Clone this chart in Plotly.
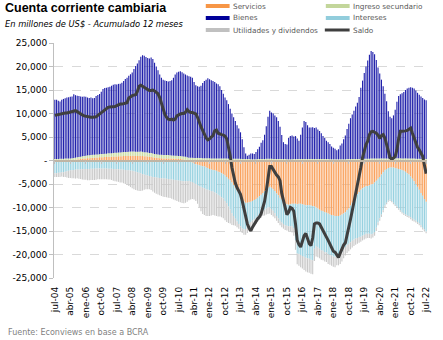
import pandas as pd
import plotly.graph_objects as go

# Cuenta corriente cambiaria, acumulado 12 meses (millones de US$), jul-04 a jul-22
MESES = ["ene", "feb", "mar", "abr", "may", "jun", "jul", "ago", "sep", "oct", "nov", "dic"]
fechas = pd.date_range("2004-07-01", "2022-07-01", freq="MS")
meses = [f"{MESES[d.month - 1]}-{d.year % 100:02d}" for d in fechas]

servicios = [
    -300, -300, -250, -250, -200, -200,
    -150, -100, -50, 0, 50, 100, 150, 200, 250, 300, 350, 400,
    450, 500, 500, 550, 600, 600, 650, 650, 700, 700, 700, 750,
    750, 800, 800, 800, 850, 850, 850, 900, 900, 900, 950, 950,
    950, 950, 1000, 1000, 1000, 950, 950, 950, 1000, 950, 900, 900,
    850, 800, 800, 700, 650, 600, 550, 500, 500, 450, 450, 450,
    450, 400, 400, 400, 350, 350, 300, 300, 250, 200, 150, 100,
    0, -200, -400, -600, -800, -900, -1000, -1100, -1200, -1300, -1500, -1600,
    -1800, -1900, -2000, -2100, -2200, -2400, -2500, -2700, -2900, -3200, -3500, -3900,
    -4200, -4700, -5200, -5800, -6400, -7000, -7600, -8200, -8700, -9000, -9000, -8900,
    -8800, -8600, -8400, -8200, -7900, -7600, -7300, -6900, -6500, -6100, -5800, -5600,
    -5800, -6100, -6500, -7000, -7400, -7900, -8300, -8700, -9100, -9300, -9400, -9300,
    -9200, -9200, -9200, -9300, -9200, -9200, -9300, -9400, -9500, -9500, -9500, -9600,
    -9700, -9800, -10000, -10200, -10500, -10700, -10800, -11000, -11100, -11300, -11500, -11600,
    -11700, -11800, -11800, -11800, -11700, -11500, -11300, -11000, -10600, -10200, -9600, -9000,
    -8400, -7800, -7200, -6700, -6200, -5900, -5700, -5500, -5400, -5300, -5100, -5000,
    -4700, -4300, -3900, -3500, -3000, -2500, -2100, -1800, -1600, -1500, -1500, -1500,
    -1600, -1700, -1800, -1900, -2000, -2200, -2400, -2700, -3000, -3400, -3900, -4400,
    -5000, -5600, -6200, -6900, -7500, -8200, -8800,
]

ingreso_secundario = [
    300, 300, 300, 350, 350, 350,
    400, 400, 400, 400, 450, 450, 450, 500, 500, 500, 550, 550,
    550, 600, 600, 600, 600, 650, 650, 650, 650, 700, 700, 700,
    700, 750, 750, 750, 750, 800, 800, 800, 800, 850, 850, 850,
    850, 900, 900, 900, 900, 900, 900, 900, 900, 900, 850, 850,
    850, 800, 800, 800, 750, 750, 750, 700, 700, 700, 700, 700,
    700, 700, 650, 650, 650, 650, 650, 650, 650, 650, 650, 600,
    600, 600, 600, 550, 550, 550, 550, 550, 500, 500, 500, 500,
    500, 450, 450, 450, 450, 450, 400, 400, 400, 400, 400, 400,
    350, 350, 350, 350, 350, 350, 350, 300, 300, 300, 300, 300,
    250, 250, 250, 250, 300, 300, 300, 300, 300, 350, 350, 350,
    350, 300, 300, 300, 300, 300, 300, 300, 300, 250, 250, 250,
    250, 300, 300, 300, 300, 300, 300, 300, 300, 300, 300, 300,
    300, 300, 300, 300, 300, 300, 300, 300, 300, 300, 250, 250,
    250, 250, 250, 250, 250, 250, 250, 250, 300, 300, 300, 300,
    300, 300, 300, 300, 350, 350, 350, 350, 350, 350, 400, 400,
    400, 400, 400, 400, 450, 450, 450, 450, 450, 500, 500, 500,
    500, 500, 500, 500, 450, 450, 450, 450, 400, 400, 400, 400,
    350, 350, 350, 300, 300, 300, 300,
]

bienes = [
    12600, 12600, 12400, 12200, 12550, 12750,
    12850, 13000, 13050, 13150, 13100, 13550, 13300, 13100, 12950, 12800, 12650, 12650,
    12550, 12300, 12200, 12250, 12050, 12050, 12400, 12650, 12800, 13250, 13800, 14000,
    14050, 14050, 14150, 14350, 14500, 14550, 14500, 14600, 14650, 14800, 15100, 15550,
    15800, 16200, 16450, 16850, 17550, 18250, 18800, 19500, 20150, 20550, 20550, 20250,
    20100, 20100, 20300, 20100, 19400, 18650, 17900, 17100, 16400, 16050, 15850, 15750,
    15650, 15800, 16050, 16550, 17300, 17700, 17950, 18050, 17900, 17650, 17500, 17400,
    17300, 17200, 17000, 16150, 15450, 15250, 15150, 15350, 16000, 16400, 16700, 17000,
    16800, 16650, 16450, 16250, 15950, 15750, 15400, 14600, 13800, 13000, 12400, 11600,
    10650, 9650, 8850, 8050, 7150, 6450, 5650, 4200, 2500, 1200, 700, 900,
    1250, 1250, 1150, 1550, 2100, 2600, 3500, 4000, 5200, 6950, 8950, 10250,
    9850, 9700, 9300, 8900, 8100, 6900, 5100, 3600, 3200, 3150, 4550, 4950,
    5050, 4800, 4900, 4400, 3900, 5200, 6700, 8100, 7900, 7200, 6700, 6700,
    6800, 6600, 6700, 6300, 6000, 5500, 4900, 4500, 3900, 3600, 3250, 2750,
    2450, 2250, 1950, 2150, 2950, 3350, 4250, 5050, 6400, 7500, 8700, 9500,
    10300, 11200, 12000, 13200, 15150, 16650, 18250, 19650, 20950, 22150, 22900, 22700,
    22200, 21000, 19400, 18100, 16750, 15350, 13750, 12150, 10050, 8800, 8500, 9100,
    10300, 12000, 13200, 13600, 13850, 14150, 14550, 14850, 15100, 15200, 15100, 14900,
    14550, 14050, 13650, 13300, 13000, 12700, 12500,
]

intereses = [
    -2400, -2400, -2350, -2350, -2300, -2300,
    -2250, -2200, -2150, -2100, -2050, -2000, -1950, -1900, -1900, -1850, -1850, -1800,
    -1800, -1800, -1800, -1750, -1750, -1750, -1700, -1700, -1700, -1700, -1700, -1700,
    -1700, -1750, -1750, -1750, -1800, -1800, -1850, -1850, -1900, -1900, -1950, -2000,
    -2050, -2100, -2150, -2200, -2300, -2400, -2500, -2600, -2700, -2900, -3000, -3100,
    -3200, -3300, -3400, -3500, -3550, -3600, -3650, -3700, -3750, -3800, -3850, -3900,
    -3950, -4000, -4050, -4100, -4150, -4200, -4250, -4300, -4350, -4400, -4400, -4400,
    -4350, -4300, -4200, -4200, -4200, -4300, -4400, -4500, -4600, -4600, -4600, -4600,
    -4600, -4600, -4600, -4700, -4800, -4900, -5000, -5100, -5200, -5400, -5600, -5900,
    -6200, -6500, -6600, -6600, -6600, -6500, -6400, -6200, -6000, -5600, -5000, -4600,
    -4300, -4200, -4100, -4000, -3900, -3900, -3900, -3900, -4000, -4100, -4200, -4300,
    -4500, -4600, -4700, -4800, -4900, -4900, -4900, -4800, -4700, -4600, -4600, -4700,
    -4800, -5200, -7800, -10500, -10700, -10900, -11000, -11100, -11200, -11300, -11400, -11500,
    -11500, -9000, -8200, -8300, -8300, -8400, -8400, -8500, -8500, -8600, -8600, -8600,
    -8700, -8700, -8300, -8300, -8200, -8000, -7600, -7400, -7400, -7500, -7800, -8100,
    -8400, -8800, -9300, -9600, -10000, -10100, -10100, -10100, -10200, -10300, -10600, -10600,
    -10500, -10000, -9300, -8800, -8500, -8100, -7500, -7200, -6900, -6800, -7100, -7500,
    -7800, -8100, -8400, -8700, -9000, -9100, -9100, -9000, -8800, -8700, -8500, -8200,
    -7800, -7500, -7200, -6900, -6800, -6500, -6300,
]

utilidades = [
    -800, -800, -900, -900, -900, -1000,
    -1100, -1300, -1500, -1600, -1700, -1800, -1900, -1900, -2000, -2100, -2200, -2300,
    -2300, -2400, -2400, -2400, -2400, -2400, -2400, -2300, -2300, -2300, -2300, -2300,
    -2300, -2300, -2300, -2400, -2500, -2600, -2600, -2700, -2800, -2800, -2900, -3000,
    -3100, -3300, -3500, -3700, -3800, -3900, -3900, -3900, -3800, -3500, -3200, -3000,
    -2900, -2800, -2900, -3100, -3300, -3500, -3600, -3700, -3800, -3900, -3900, -3900,
    -4000, -4000, -4100, -4200, -4300, -4400, -4500, -4600, -4700, -4700, -4600, -4400,
    -4100, -3800, -3600, -3500, -3600, -4000, -4600, -5200, -5600, -5700, -5700, -5600,
    -5400, -5200, -5000, -4900, -4800, -4600, -4400, -4300, -4200, -4100, -4000, -3500,
    -3000, -2500, -2000, -1500, -1200, -1000, -1000, -1000, -1100, -1200, -1400, -1500,
    -1500, -1500, -1400, -1300, -1200, -1100, -1000, -1000, -1200, -1300, -1400, -1400,
    -1300, -1200, -1100, -1000, -1000, -1000, -1000, -1000, -1000, -1000, -1000, -1100,
    -1300, -1600, -2000, -2300, -2500, -2600, -2700, -2800, -2900, -3000, -3000, -3000,
    -3000, -2600, -2200, -2100, -2000, -2000, -2000, -2000, -2000, -2100, -2100, -2200,
    -2200, -2200, -2200, -2200, -2100, -2000, -1900, -1800, -1700, -1600, -1500, -1400,
    -1400, -1300, -1200, -1200, -1100, -1000, -1000, -1000, -900, -900, -900, -800,
    -800, -700, -600, -500, -500, -400, -400, -300, -300, -300, -300, -300,
    -300, -300, -300, -300, -300, -300, -300, -300, -400, -400, -400, -400,
    -400, -400, -400, -400, -400, -400, -400,
]

saldo = [
    9600, 9700, 9700, 9800, 9900, 10000,
    10100, 10100, 10200, 10200, 10300, 10400, 10600, 10400, 10100, 9900, 9700, 9500,
    9400, 9300, 9200, 9200, 9200, 9300, 9300, 9600, 9900, 10300, 10600, 10900,
    11100, 11300, 11400, 11400, 11400, 11500, 11700, 11900, 12000, 12000, 12100, 12200,
    12300, 13300, 13600, 13800, 13900, 14000, 14700, 15800, 16000, 15800, 15600, 15400,
    15100, 14900, 14900, 15000, 14800, 14500, 14200, 13400, 12200, 11200, 9800, 9200,
    8800, 8700, 8800, 8600, 8800, 9500, 9800, 9900, 10000, 10000, 10300, 10800,
    10400, 10200, 10200, 10000, 9900, 9200, 8000, 7200, 6400, 5600, 4800, 4400,
    4600, 5000, 5300, 6300, 6500, 5800, 5600, 5500, 5400, 5200, 4600, 3000,
    1000, -1500, -3500, -4800, -5800, -6500, -7200, -8600, -10300, -12500, -13500, -14400,
    -15000, -14200, -13500, -13100, -12400, -12000, -11300, -10000, -8700, -6500, -3800, -1300,
    -1300, -1900, -2700, -3100, -3500, -4300, -7000, -8500, -10000, -11500, -11000, -10000,
    -10200, -10800, -13500, -17000, -17900, -18400, -17200, -16000, -15500, -16600, -17700, -18100,
    -16500, -13500, -13300, -13300, -13500, -14200, -15000, -15500, -16300, -17000, -17800, -18600,
    -19300, -19500, -20000, -20600, -19700, -18800, -18000, -17500, -16000, -14200, -12500, -10700,
    -9000, -7200, -5500, -3700, -1500, 600, 2000, 3400, 4100, 5500, 6100, 6200,
    6000, 5800, 5400, 4700, 5300, 5500, 4800, 3400, 2000, 600, 300, 500,
    900, 2300, 4600, 6200, 6200, 6200, 6300, 6400, 6600, 6900, 5800, 4800,
    3600, 2800, 2300, 1500, 900, -1000, -2800,
]

y_ticks = [25000, 20000, 15000, 10000, 5000, 0, -5000, -10000, -15000, -20000, -25000]
y_text = ["25,000", "20,000", "15,000", "10,000", "5,000", "-",
          "-5,000", "-10,000", "-15,000", "-20,000", "-25,000"]

# legend swatch colours and the (slightly translucent) bar fills; the small
# alpha makes plotly snap each thin bar to whole pixels, leaving fine gaps
COL = {
    "Servicios": "#F79646",
    "Ingreso secundario": "#C3D69B",
    "Bienes": "#000099",
    "Intereses": "#92CDDC",
    "Utilidades y dividendos": "#C0C0C0",
    "Saldo": "#3F3F3F",
}
BAR = {
    "Servicios": "rgba(249,160,90,0.99)",
    "Ingreso secundario": "rgba(200,220,160,0.99)",
    "Bienes": "rgba(30,30,170,0.99)",
    "Intereses": "rgba(150,208,224,0.99)",
    "Utilidades y dividendos": "rgba(200,200,200,0.99)",
}

x = list(range(len(meses)))
tick_idx = x[::9]

fig = go.Figure()
for nombre, valores in [
    ("Servicios", servicios),
    ("Ingreso secundario", ingreso_secundario),
    ("Bienes", bienes),
    ("Intereses", intereses),
    ("Utilidades y dividendos", utilidades),
]:
    fig.add_bar(x=x, y=valores, name=nombre, marker_color=BAR[nombre],
                marker_line_width=0, showlegend=False)

fig.add_scatter(x=x, y=saldo, name="Saldo", mode="lines", xaxis="x2",
                line=dict(color=COL["Saldo"], width=3), showlegend=False)

# plot area in pixels
L, R, T, B = 54, 430, 43, 278


def px(xp):
    return (xp - L) / (R - L)


def py(yp):
    return (B - yp) / (B - T)


shapes = []
annotations = []
FONT = "DejaVu Sans"

legend_items = [
    ("Servicios", 207, 6, "bar"), ("Ingreso secundario", 328, 6, "bar"),
    ("Bienes", 207, 18, "bar"), ("Intereses", 328, 18, "bar"),
    ("Utilidades y dividendos", 207, 30, "bar"), ("Saldo", 328, 30, "line"),
]
for nombre, x0, yc, kind in legend_items:
    if kind == "bar":
        shapes.append(dict(type="rect", xref="paper", yref="paper",
                           x0=px(x0), x1=px(x0 + 24), y0=py(yc + 2), y1=py(yc - 2),
                           fillcolor=COL[nombre], line=dict(width=0)))
    else:
        shapes.append(dict(type="line", xref="paper", yref="paper",
                           x0=px(x0 - 1), x1=px(x0 + 24), y0=py(yc), y1=py(yc),
                           line=dict(color=COL[nombre], width=3)))
    annotations.append(dict(text=nombre, xref="paper", yref="paper",
                            x=px(x0 + 25), y=py(yc), xanchor="left", yanchor="middle",
                            showarrow=False, font=dict(family=FONT, size=7.3, color="#595959")))

annotations += [
    dict(text="<b>Cuenta corriente cambiaria</b>", xref="paper", yref="paper",
         x=px(3), y=py(8), xanchor="left", yanchor="middle", showarrow=False,
         font=dict(family="Liberation Sans", size=12.5, color="#000000")),
    dict(text="<i>En millones de US$ - Acumulado 12 meses</i>", xref="paper", yref="paper",
         x=px(3), y=py(24), xanchor="left", yanchor="middle", showarrow=False,
         font=dict(family=FONT, size=8.3, color="#000000")),
    dict(text="Fuente: Econviews en base a BCRA", xref="paper", yref="paper",
         x=px(6), y=py(332), xanchor="left", yanchor="middle", showarrow=False,
         font=dict(family=FONT, size=8, color="#7F7F7F")),
]

fig.update_layout(
    width=443, height=340,
    margin=dict(l=L, r=443 - R, t=T, b=340 - B),
    paper_bgcolor="white", plot_bgcolor="white",
    barmode="relative", bargap=0.35,
    showlegend=False,
    shapes=shapes, annotations=annotations,
    xaxis=dict(range=[-0.5, len(meses) - 0.5], tickmode="array", tickvals=tick_idx,
               ticktext=[meses[i] for i in tick_idx], tickangle=-90,
               tickfont=dict(family=FONT, size=9, color="#000000"),
               showgrid=False, zeroline=False, showline=False, ticks="",
               ticklabelstandoff=6),
    xaxis2=dict(overlaying="x", anchor="free", position=0.5,
                range=[-0.5, len(meses) - 0.5], tickmode="array", tickvals=tick_idx,
                showticklabels=False, ticks="outside", ticklen=3, tickcolor="#BFBFBF",
                showline=True, linecolor="#BFB5A5", linewidth=1.5,
                showgrid=False, zeroline=False),
    yaxis=dict(range=[-25000, 25000], tickmode="array", tickvals=y_ticks, ticktext=y_text,
               tickfont=dict(family=FONT, size=9, color="#000000"),
               showgrid=True, gridcolor="#D9D9D9", griddash="dash", gridwidth=1,
               showline=True, linecolor="#BFBFBF", linewidth=1,
               ticks="outside", ticklen=4, tickcolor="#BFBFBF",
               zeroline=False),
)

fig.write_html("out.html")
